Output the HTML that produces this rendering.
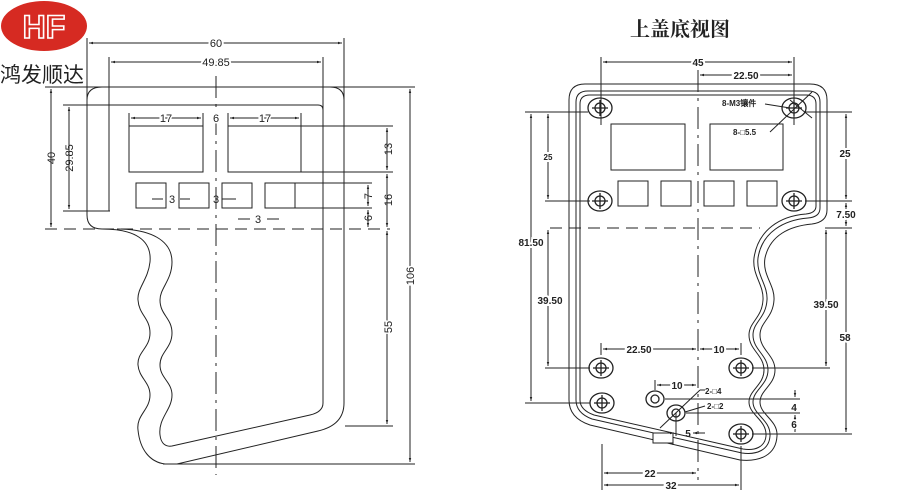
<!DOCTYPE html>
<html><head><meta charset="utf-8"><style>
html,body{margin:0;padding:0;background:#fff;}
svg{display:block}
text{font-family:"Liberation Sans",sans-serif;fill:#222}
</style></head><body>
<svg width="900" height="500" viewBox="0 0 900 500" xmlns="http://www.w3.org/2000/svg">
<defs>
<marker id="a" viewBox="0 0 10 10" refX="10" refY="5" markerWidth="6" markerHeight="4" orient="auto-start-reverse"><path d="M0,2 L10,5 L0,8z" fill="#222"/></marker>
</defs>
<!-- logo -->
<ellipse cx="44" cy="26" rx="43" ry="25" fill="#d62a22"/>
<text x="44" y="38" text-anchor="middle" font-size="32" font-weight="bold" style="fill:none;stroke:#fff;stroke-width:1.6" font-family="Liberation Sans">HF</text>
<text x="0" y="82" font-size="21" style="font-family:'Liberation Sans','Noto Sans CJK SC',sans-serif">鸿发顺达</text>

<g stroke="#222" stroke-width="1" fill="none">
<!-- LEFT DRAWING -->
<line x1="87" y1="38" x2="87" y2="215"/><line x1="344" y1="38" x2="344" y2="403"/>
<line x1="109" y1="57" x2="109" y2="211"/><line x1="323" y1="57" x2="323" y2="403"/>
<line x1="89" y1="43" x2="342" y2="43" marker-start="url(#a)" marker-end="url(#a)"/>
<line x1="111" y1="62" x2="321" y2="62" marker-start="url(#a)" marker-end="url(#a)"/>
<path d="M87,100 Q87,87 102,87 L330,87 Q344,87 344,100"/>
<line x1="45" y1="87" x2="415" y2="87"/>
<line x1="63" y1="105" x2="318" y2="105"/><path d="M318,105 Q323,105 323,110"/>
<line x1="63" y1="211" x2="110" y2="211"/>
<path d="M87,215 Q87,229 102,229"/>
<line x1="45" y1="229" x2="390" y2="229" stroke-dasharray="12,7"/>
<line x1="216" y1="76" x2="216" y2="475" stroke-dasharray="22,6,3,6"/>
<rect x="129" y="126" width="74" height="46"/><rect x="228" y="126" width="73" height="46"/>
<line x1="131" y1="118" x2="201" y2="118" marker-start="url(#a)" marker-end="url(#a)"/>
<line x1="230" y1="118" x2="299" y2="118" marker-start="url(#a)" marker-end="url(#a)"/>
<line x1="129" y1="113" x2="129" y2="126"/><line x1="203" y1="113" x2="203" y2="126"/>
<line x1="228" y1="113" x2="228" y2="126"/><line x1="301" y1="113" x2="301" y2="126"/>
<rect x="136" y="183" width="30" height="25"/><rect x="179" y="183" width="30" height="25"/>
<rect x="222" y="183" width="30" height="25"/><rect x="265" y="183" width="30" height="25"/>
<line x1="295" y1="183" x2="372" y2="183"/><line x1="295" y1="208" x2="372" y2="208"/>
<line x1="301" y1="126" x2="393" y2="126"/><line x1="301" y1="172" x2="393" y2="172"/>
<line x1="387" y1="128" x2="387" y2="170" marker-start="url(#a)" marker-end="url(#a)"/>
<line x1="387" y1="174" x2="387" y2="227" marker-start="url(#a)" marker-end="url(#a)"/>
<line x1="387" y1="231" x2="387" y2="424" marker-start="url(#a)" marker-end="url(#a)"/>
<line x1="368" y1="185" x2="368" y2="206" marker-start="url(#a)" marker-end="url(#a)"/>
<line x1="368" y1="210" x2="368" y2="227" marker-start="url(#a)" marker-end="url(#a)"/>
<line x1="51" y1="89" x2="51" y2="227" marker-start="url(#a)" marker-end="url(#a)"/>
<line x1="69" y1="107" x2="69" y2="209" marker-start="url(#a)" marker-end="url(#a)"/>
<line x1="410" y1="89" x2="410" y2="462" marker-start="url(#a)" marker-end="url(#a)"/>
<line x1="345" y1="426" x2="393" y2="426"/>
<line x1="163" y1="464" x2="415" y2="464"/>
<line x1="152" y1="199" x2="163" y2="199"/><line x1="180" y1="199" x2="190" y2="199"/>
<line x1="222" y1="199" x2="236" y2="199"/>
<line x1="238" y1="219" x2="250" y2="219"/><line x1="267" y1="219" x2="279" y2="219"/>
<!-- handle -->
<path d="M102,229 C135,229 152,240 150,262 C148,280 137,288 138,300 C139,315 150,318 150,333 C150,348 137,352 138,365 C139,378 150,382 150,395 C150,410 136,415 138,430 C140,450 150,462 165,464 L177,464 L318,431 Q344,425 344,403"/>
<path d="M117,229 C150,229 172,240 172,262 C172,280 160,288 160,300 C160,315 172,318 172,333 C172,348 160,352 160,365 C160,378 172,382 172,395 C172,410 158,418 160,435 C161,444 166,447 172,446 L310,415 Q323,412 323,403"/>

<!-- RIGHT DRAWING -->
<path d="M569,215 L569,100 Q569,84 585,84 L810,84 Q827,84 827,100 L827,210 Q827,222 812,224 C790,226 770,235 765,258 C762,275 775,285 774,300 C773,318 760,322 760,335 C760,350 775,355 775,370 C775,385 760,390 760,402 C760,415 778,420 777,436 C776,455 760,462 740,460 L590,425 Q569,418 569,400 Z"/>
<path d="M576,215 L576,102 Q576,91 588,91 L808,91 Q820,91 820,102 L820,208 Q820,217 808,218 C784,220 762,232 758,258 C756,275 768,285 767,300 C766,318 753,322 753,335 C753,350 768,355 768,370 C768,385 753,390 753,402 C753,415 771,420 770,436 C769,450 757,455 742,453 L592,419 Q576,413 576,400 Z"/>
<path d="M580,215 L580,104 Q580,95 590,95 L806,95 Q816,95 816,104 L816,206 Q816,213 806,214 C780,216 758,230 754,258 C752,275 764,285 763,300 C762,318 749,322 749,335 C749,350 764,355 764,370 C764,385 749,390 749,402 C749,415 767,420 766,436 C765,447 755,451 743,449 L594,415 Q580,410 580,400 Z"/>
<rect x="653" y="433" width="20" height="10" fill="#fff"/>
<line x1="653" y1="433" x2="653" y2="441"/><line x1="673" y1="437" x2="673" y2="445"/>
<rect x="611" y="124" width="74" height="46"/><rect x="710" y="124" width="73" height="46"/>
<rect x="618" y="181" width="30" height="25"/><rect x="661" y="181" width="30" height="25"/>
<rect x="704" y="181" width="30" height="25"/><rect x="747" y="181" width="30" height="25"/>
<line x1="550" y1="228" x2="760" y2="228" stroke-dasharray="12,7"/>
<line x1="698" y1="70" x2="698" y2="480" stroke-dasharray="22,6,3,6"/>
<line x1="601" y1="57" x2="601" y2="125"/><line x1="794" y1="57" x2="794" y2="125"/>
<line x1="603" y1="62" x2="792" y2="62" marker-start="url(#a)" marker-end="url(#a)"/>
<line x1="700" y1="75" x2="792" y2="75" marker-start="url(#a)" marker-end="url(#a)"/>
<line x1="525" y1="112" x2="588" y2="112"/><line x1="805" y1="112" x2="852" y2="112"/>
<line x1="545" y1="201" x2="590" y2="201"/><line x1="805" y1="201" x2="852" y2="201"/>
<line x1="531" y1="114" x2="531" y2="401" marker-start="url(#a)" marker-end="url(#a)"/>
<line x1="525" y1="403" x2="590" y2="403"/>
<line x1="548" y1="114" x2="548" y2="199" marker-start="url(#a)" marker-end="url(#a)"/>
<line x1="548" y1="230" x2="548" y2="366" marker-start="url(#a)" marker-end="url(#a)"/>
<line x1="545" y1="368" x2="590" y2="368"/><line x1="752" y1="368" x2="830" y2="368"/>
<line x1="846" y1="114" x2="846" y2="199" marker-start="url(#a)" marker-end="url(#a)"/>
<line x1="846" y1="203" x2="846" y2="226" marker-start="url(#a)" marker-end="url(#a)"/>
<line x1="846" y1="230" x2="846" y2="432" marker-start="url(#a)" marker-end="url(#a)"/>
<line x1="826" y1="230" x2="826" y2="366" marker-start="url(#a)" marker-end="url(#a)"/>
<line x1="825" y1="228" x2="852" y2="228"/>
<line x1="752" y1="434" x2="852" y2="434"/>
<line x1="601" y1="343" x2="601" y2="355"/><line x1="741" y1="343" x2="741" y2="355"/>
<line x1="603" y1="349" x2="696" y2="349" marker-start="url(#a)" marker-end="url(#a)"/>
<line x1="700" y1="349" x2="739" y2="349" marker-start="url(#a)" marker-end="url(#a)"/>
<line x1="602" y1="444" x2="602" y2="490"/><line x1="741" y1="446" x2="741" y2="490"/>
<line x1="604" y1="473" x2="696" y2="473" marker-start="url(#a)" marker-end="url(#a)"/>
<line x1="604" y1="485" x2="739" y2="485" marker-start="url(#a)" marker-end="url(#a)"/>
<line x1="655" y1="380" x2="655" y2="390"/>
<line x1="657" y1="385" x2="696" y2="385" marker-start="url(#a)" marker-end="url(#a)"/>
<line x1="665" y1="399" x2="800" y2="399"/><line x1="686" y1="413" x2="800" y2="413"/>
<line x1="795" y1="390" x2="795" y2="397" marker-end="url(#a)"/>
<line x1="795" y1="415" x2="795" y2="432" marker-start="url(#a)" marker-end="url(#a)"/>
<line x1="662" y1="433" x2="674" y2="433" marker-end="url(#a)"/>
<line x1="705" y1="433" x2="693" y2="433" marker-end="url(#a)"/>
<line x1="676" y1="413" x2="676" y2="436"/>
<line x1="660" y1="428" x2="700" y2="390"/><line x1="700" y1="390" x2="705" y2="390"/>
<line x1="685" y1="412" x2="705" y2="406"/>
<line x1="765" y1="104" x2="790" y2="108"/><line x1="770" y1="132" x2="812" y2="92"/>
<line x1="790" y1="100" x2="812" y2="118"/>
</g>
<!-- holes -->
<g stroke="#222" stroke-width="1.3" fill="none">
<g transform="translate(600,108)"><ellipse rx="12" ry="10"/><circle r="5"/><line x1="-8" x2="8"/><line y1="-8" y2="8"/></g>
<g transform="translate(794,108)"><ellipse rx="12" ry="10"/><circle r="5"/><line x1="-8" x2="8"/><line y1="-8" y2="8"/></g>
<g transform="translate(600,201)"><ellipse rx="12" ry="10"/><circle r="5"/><line x1="-8" x2="8"/><line y1="-8" y2="8"/></g>
<g transform="translate(794,201)"><ellipse rx="12" ry="10"/><circle r="5"/><line x1="-8" x2="8"/><line y1="-8" y2="8"/></g>
<g transform="translate(601,368)"><ellipse rx="12" ry="10"/><circle r="5"/><line x1="-8" x2="8"/><line y1="-8" y2="8"/></g>
<g transform="translate(741,368)"><ellipse rx="12" ry="10"/><circle r="5"/><line x1="-8" x2="8"/><line y1="-8" y2="8"/></g>
<g transform="translate(602,403)"><ellipse rx="12" ry="10"/><circle r="5"/><line x1="-8" x2="8"/><line y1="-8" y2="8"/></g>
<g transform="translate(741,434)"><ellipse rx="12" ry="10"/><circle r="5"/><line x1="-8" x2="8"/><line y1="-8" y2="8"/></g>
<g transform="translate(655,399)"><ellipse rx="9" ry="8"/><circle r="4"/></g>
<g transform="translate(676,413)"><ellipse rx="9" ry="8"/><circle r="4"/></g>
</g>
<!-- text -->
<g font-size="11" text-anchor="middle">
<text x="216" y="47" style="fill:#222;paint-order:stroke;stroke:#fff;stroke-width:4">60</text>
<text x="216" y="66" style="paint-order:stroke;stroke:#fff;stroke-width:4">49.85</text>
<text x="166" y="122" style="paint-order:stroke;stroke:#fff;stroke-width:3">17</text>
<text x="216" y="122" style="paint-order:stroke;stroke:#fff;stroke-width:3">6</text>
<text x="265" y="122" style="paint-order:stroke;stroke:#fff;stroke-width:3">17</text>
<text x="172" y="203">3</text><text x="216" y="203">3</text><text x="258" y="223">3</text>
<text transform="translate(55,158) rotate(-90)">40</text>
<text transform="translate(73,158) rotate(-90)">29.85</text>
<text transform="translate(392,149) rotate(-90)">13</text>
<text transform="translate(392,200) rotate(-90)">16</text>
<text transform="translate(372,196) rotate(-90)">7</text>
<text transform="translate(372,218) rotate(-90)">6</text>
<text transform="translate(392,327) rotate(-90)" style="paint-order:stroke;stroke:#fff;stroke-width:3">55</text>
<text transform="translate(414,276) rotate(-90)" style="paint-order:stroke;stroke:#fff;stroke-width:3">106</text>
</g>
<text x="680" y="36" text-anchor="middle" font-size="20" font-weight="bold" style="font-family:'Liberation Serif','Noto Serif CJK SC',serif">上盖底视图</text>
<g font-size="10" text-anchor="middle" font-weight="bold">
<text x="698" y="66" style="paint-order:stroke;stroke:#fff;stroke-width:4">45</text>
<text x="746" y="79" style="paint-order:stroke;stroke:#fff;stroke-width:4">22.50</text>
<text x="548" y="160" style="paint-order:stroke;stroke:#fff;stroke-width:4" font-size="8">25</text>
<text x="531" y="246" style="paint-order:stroke;stroke:#fff;stroke-width:4">81.50</text>
<text x="550" y="304" style="paint-order:stroke;stroke:#fff;stroke-width:4">39.50</text>
<text x="845" y="157" style="paint-order:stroke;stroke:#fff;stroke-width:4">25</text>
<text x="846" y="218" style="paint-order:stroke;stroke:#fff;stroke-width:4">7.50</text>
<text x="826" y="308" style="paint-order:stroke;stroke:#fff;stroke-width:4">39.50</text>
<text x="845" y="341" style="paint-order:stroke;stroke:#fff;stroke-width:4">58</text>
<text x="639" y="353" style="paint-order:stroke;stroke:#fff;stroke-width:4">22.50</text>
<text x="719" y="353" style="paint-order:stroke;stroke:#fff;stroke-width:4">10</text>
<text x="677" y="389" style="paint-order:stroke;stroke:#fff;stroke-width:4">10</text>
<text x="688" y="437">5</text>
<text x="794" y="411" style="paint-order:stroke;stroke:#fff;stroke-width:3">4</text>
<text x="794" y="428" style="paint-order:stroke;stroke:#fff;stroke-width:3">6</text>
<text x="650" y="477" style="paint-order:stroke;stroke:#fff;stroke-width:4">22</text>
<text x="671" y="489" style="paint-order:stroke;stroke:#fff;stroke-width:4">32</text>
</g>
<g font-size="8" font-weight="bold" style="font-family:'Liberation Sans','Noto Sans CJK SC',sans-serif">
<text x="722" y="106">8-M3镶件</text>
<text x="733" y="135">8-□5.5</text>
<text x="705" y="394">2-□4</text>
<text x="707" y="409">2-□2</text>
</g>
</svg>
</body></html>
